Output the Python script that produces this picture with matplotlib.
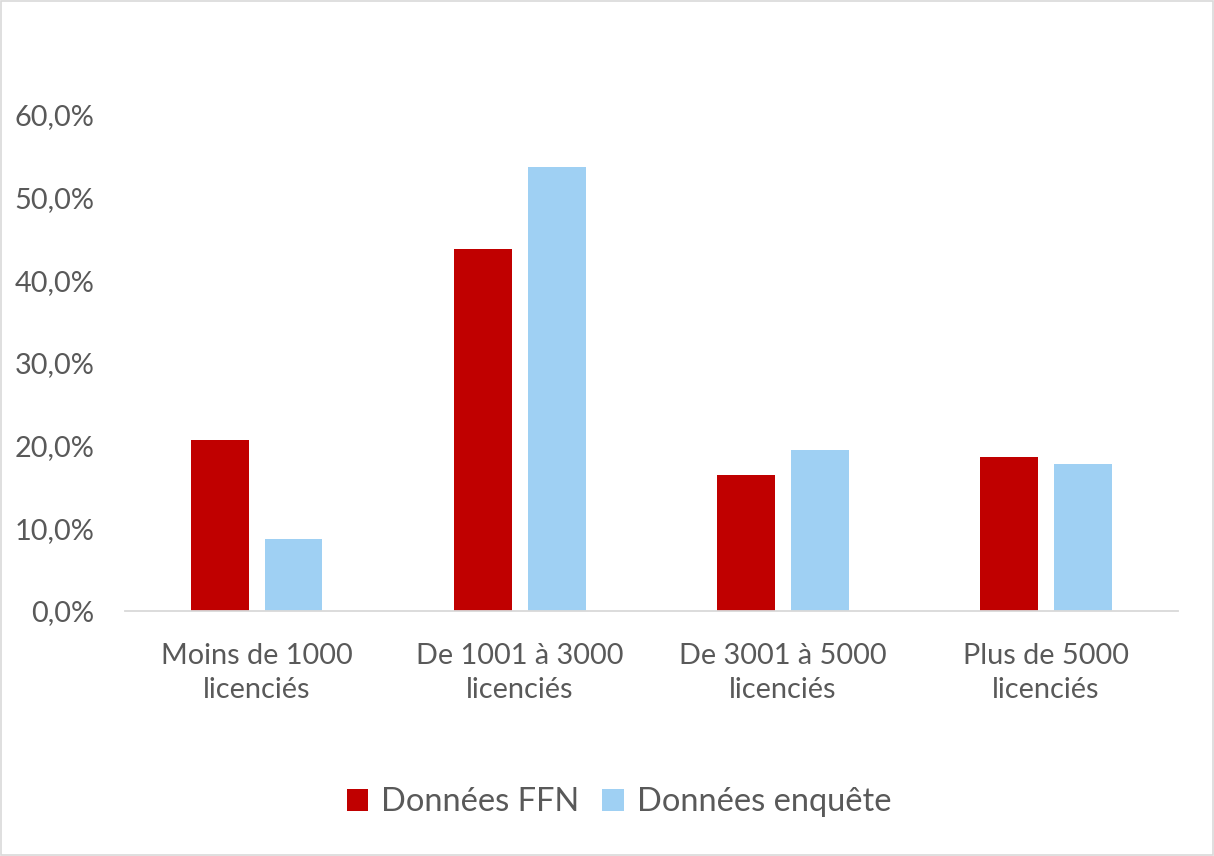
import matplotlib.pyplot as plt
import numpy as np
from matplotlib.patches import Rectangle

# Données
categories = ["Moins de 1000\nlicenciés", "De 1001 à 3000\nlicenciés",
              "De 3001 à 5000\nlicenciés", "Plus de 5000\nlicenciés"]
ffn = [20.7, 43.8, 16.5, 18.6]
enquete = [8.7, 53.7, 19.5, 17.8]
yticks = [0, 10, 20, 30, 40, 50, 60]

plt.rcParams['font.family'] = ['Lato', 'DejaVu Sans']
GRIS = "#595959"

fig = plt.figure(figsize=(12.14, 8.56), dpi=100)
ax = fig.add_axes([0.103, 0.2862, 0.867, 0.6764])

x = np.arange(len(categories))
w = 0.22
ax.bar(x - 0.03 - w / 2, ffn, width=w, color="#C00000", label="Données FFN")
ax.bar(x + 0.03 + w / 2, enquete, width=w, color="#9FD0F3", label="Données enquête")

ax.set_xlim(-0.5, len(categories) - 0.5)
ax.set_ylim(0, 70)
ax.set_yticks(yticks)
ax.set_yticklabels([f"{v},0%" for v in yticks], fontsize=20.8, color=GRIS)
ax.set_xticks(x)
ax.set_xticklabels(categories, fontsize=20.8, color=GRIS, linespacing=1.4)
ax.tick_params(axis="both", length=0)
ax.tick_params(axis="x", pad=23)
ax.tick_params(axis="y", pad=22)

for s in ["top", "right", "left"]:
    ax.spines[s].set_visible(False)
ax.spines["bottom"].set_color("#D9D9D9")
ax.spines["bottom"].set_linewidth(1.3)

leg = fig.legend(loc="center", bbox_to_anchor=(0.51, 0.063), ncol=2, frameon=False,
                 fontsize=23.5, handlelength=0.65, handleheight=0.65, handletextpad=0.4,
                 columnspacing=0.7)
for t in leg.get_texts():
    t.set_color(GRIS)

# cadre autour de la figure
fig.patches.append(Rectangle((0.001, 0.001), 0.998, 0.998, transform=fig.transFigure,
                             fill=False, edgecolor="#D9D9D9", linewidth=1.2))

fig.savefig("out.png", dpi=100)
